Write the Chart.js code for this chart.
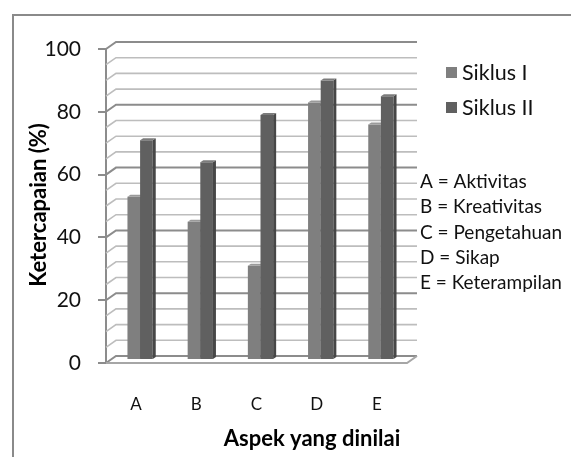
<!DOCTYPE html>
<html>
<head>
<meta charset="utf-8">
<script src="https://cdn.jsdelivr.net/npm/chart.js@4/dist/chart.umd.min.js"></script>
<style>
  html, body { margin: 0; padding: 0; background: #ffffff; }
  #wrap { width: 571px; height: 457px; position: relative; }
</style>
</head>
<body>
<div id="wrap"><canvas id="chart" width="571" height="457"></canvas></div>
<script>
// Aspek yang dinilai (kategori sumbu X)
const categories = ['A', 'B', 'C', 'D', 'E'];
// Persentase ketercapaian per siklus
const siklusI = [52, 44, 30, 82, 75];
const siklusII = [70, 63, 78, 89, 84];
const seriesNames = ['Siklus I', 'Siklus II'];
// Sumbu Y
const yMin = 0, yMax = 100, yStep = 20, yMinorStep = 5;
// Keterangan huruf kategori
const keterangan = ['A = Aktivitas', 'B = Kreativitas', 'C = Pengetahuan', 'D = Sikap', 'E = Keterampilan'];
const xTitle = 'Aspek yang dinilai';
const yTitle = 'Ketercapaian (%)';

const FONT = 'Lato, "Open Sans", "DejaVu Sans", sans-serif';
const faces = [
  { front: '#7f7f7f', side: '#656565', top: '#9a9a9a' },
  { front: '#606060', side: '#474747', top: '#7c7c7c' }
];
// depth offsets (wall, bar placement inside depth, bar thickness)
const WALL = { dx: 10, dy: -7 };
const BAR_SHIFT = { dx: 4, dy: -3 };
const BAR_DEPTH = { dx: 3, dy: -2 };

const framePlugin = {
  id: 'frame',
  beforeDraw(chart) {
    const ctx = chart.ctx;
    ctx.save();
    ctx.fillStyle = '#ffffff';
    ctx.fillRect(0, 0, chart.width, chart.height);
    ctx.strokeStyle = '#8a8a8a';
    ctx.lineWidth = 2;
    ctx.strokeRect(13, 15, chart.width + 20, chart.height + 20);
    ctx.restore();
  }
};

function poly(ctx, pts, fill) {
  ctx.beginPath();
  ctx.moveTo(pts[0][0], pts[0][1]);
  for (let i = 1; i < pts.length; i++) ctx.lineTo(pts[i][0], pts[i][1]);
  ctx.closePath();
  ctx.fillStyle = fill;
  ctx.fill();
}

const wallPlugin = {
  id: 'wall3d',
  beforeDatasetsDraw(chart) {
    const ctx = chart.ctx;
    const y = chart.scales.y;
    const area = chart.chartArea;
    ctx.save();
    // back wall + side wall gridlines
    for (let v = yMin; v <= yMax; v += yMinorStep) {
      const py = y.getPixelForValue(v);
      const major = v % yStep === 0;
      ctx.strokeStyle = major ? '#8c8c8c' : '#bdbdbd';
      ctx.lineWidth = major ? 2 : 1.6;
      ctx.beginPath();
      ctx.moveTo(area.left, py);
      ctx.lineTo(area.left + WALL.dx, py + WALL.dy);
      ctx.lineTo(area.right + WALL.dx, py + WALL.dy);
      ctx.stroke();
    }
    // floor front edge and right edge
    const p0 = y.getPixelForValue(yMin);
    ctx.strokeStyle = '#a6a6a6';
    ctx.lineWidth = 2;
    ctx.beginPath();
    ctx.moveTo(area.left, p0);
    ctx.lineTo(area.right, p0);
    ctx.lineTo(area.right + WALL.dx, p0 + WALL.dy);
    ctx.stroke();

    // bars: front faces drawn by the bar elements, sides and tops added
    ctx.translate(BAR_SHIFT.dx, BAR_SHIFT.dy);
    const metas = [chart.getDatasetMeta(0), chart.getDatasetMeta(1)];
    for (let i = 0; i < categories.length; i++) {
      metas.forEach((meta, d) => {
        const el = meta.data[i];
        const p = el.getProps(['x', 'y', 'base', 'width'], true);
        const L = p.x - p.width / 2, R = p.x + p.width / 2;
        el.draw(ctx);
        poly(ctx, [[R, p.y], [R + BAR_DEPTH.dx, p.y + BAR_DEPTH.dy],
                   [R + BAR_DEPTH.dx, p.base + BAR_DEPTH.dy], [R, p.base]], faces[d].side);
        poly(ctx, [[L, p.y], [L + BAR_DEPTH.dx, p.y + BAR_DEPTH.dy],
                   [R + BAR_DEPTH.dx, p.y + BAR_DEPTH.dy], [R, p.y]], faces[d].top);
      });
    }
    ctx.restore();
    return false;
  }
};

const textPlugin = {
  id: 'texts',
  afterDraw(chart) {
    const ctx = chart.ctx;
    ctx.save();
    ctx.fillStyle = '#000000';
    // axis titles
    ctx.font = 'bold 22px ' + FONT;
    ctx.textAlign = 'center';
    ctx.textBaseline = 'middle';
    ctx.fillText(xTitle, 312, 439);
    ctx.save();
    ctx.translate(39, 205);
    ctx.rotate(-Math.PI / 2);
    ctx.fillText(yTitle, 0, 0);
    ctx.restore();
    // series legend
    ctx.textAlign = 'left';
    ctx.font = '21.5px ' + FONT;
    seriesNames.forEach((name, i) => {
      const cy = 73 + i * 35;
      ctx.fillStyle = faces[i].front;
      ctx.fillRect(446, cy - 6, 11, 11);
      ctx.fillStyle = '#111111';
      ctx.fillText(name, 462, cy);
    });
    // category key
    ctx.font = '19px ' + FONT;
    keterangan.forEach((t, i) => {
      ctx.fillText(t, 420, 182 + i * 25.2);
    });
    ctx.restore();
  }
};

new Chart(document.getElementById('chart'), {
  type: 'bar',
  data: {
    labels: categories,
    datasets: [
      { label: seriesNames[0], data: siklusI, backgroundColor: faces[0].front, borderWidth: 0 },
      { label: seriesNames[1], data: siklusII, backgroundColor: faces[1].front, borderWidth: 0 }
    ]
  },
  options: {
    responsive: false,
    animation: false,
    events: [],
    datasets: { bar: { categoryPercentage: 0.42, barPercentage: 1.0 } },
    layout: { padding: { left: 0, right: 164, top: 49, bottom: 0 } },
    plugins: { legend: { display: false }, tooltip: { enabled: false }, title: { display: false } },
    scales: {
      x: {
        grid: { display: false },
        border: { display: false },
        ticks: { padding: 23, color: '#111111', font: { family: FONT, size: 17 } },
        afterFit(s) { s.height = 94; }
      },
      y: {
        min: yMin, max: yMax,
        ticks: { stepSize: yStep, padding: 17, color: '#111111', font: { family: FONT, size: 21 } },
        grid: { drawOnChartArea: false, drawTicks: true, tickLength: 8, color: '#8c8c8c', lineWidth: 2 },
        border: { display: true, color: '#8c8c8c', width: 2 },
        afterFit(s) { s.width = 106; }
      }
    }
  },
  plugins: [framePlugin, wallPlugin, textPlugin]
});
</script>
</body>
</html>
